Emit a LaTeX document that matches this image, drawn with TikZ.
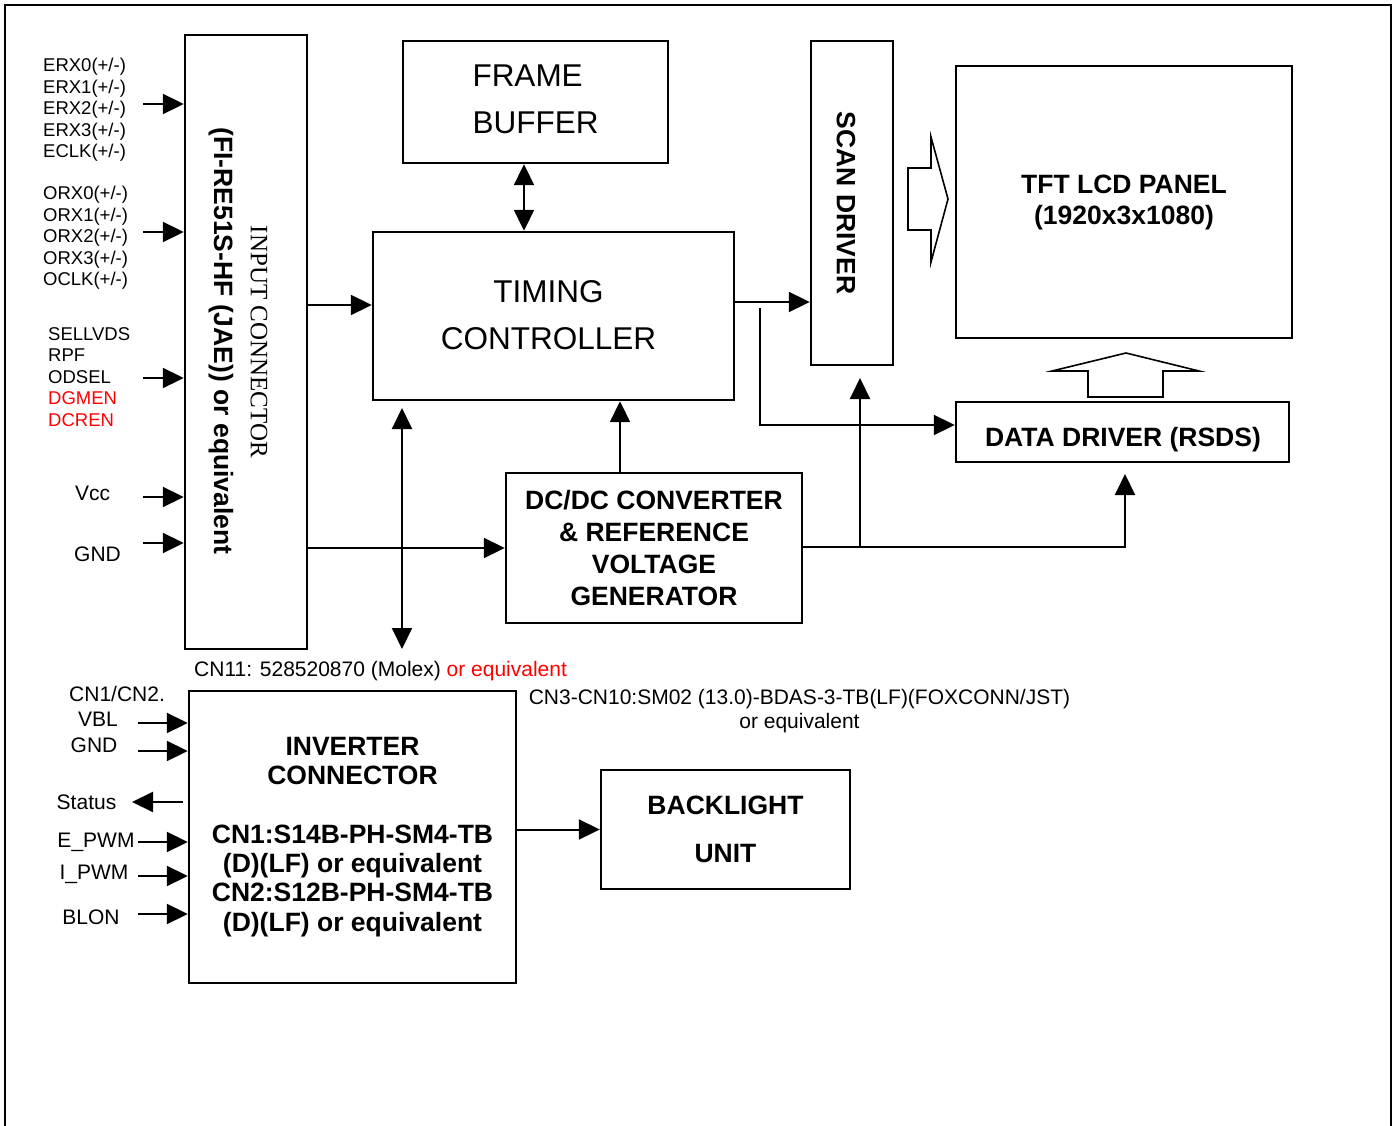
\documentclass[tikz,border=0pt]{standalone}
\usepackage{fontspec}
\setmainfont{Liberation Sans}
\newfontfamily\timesfont{Liberation Serif}
\usetikzlibrary{arrows.meta}
\tikzset{
  blk/.style={draw,line width=2.4pt,inner sep=0pt,align=center},
  lnk/.style={line width=2pt,-{Triangle[length=21pt,width=20pt]}},
  lnkk/.style={line width=2pt,{Triangle[length=21pt,width=20pt]}-{Triangle[length=21pt,width=20pt]}},
  big/.style={font=\fontsize{31.5}{47}\selectfont},
  bld/.style={font=\fontsize{26.5}{#1}\selectfont\bfseries},
  bld/.default=32,
  sig/.style={font=\fontsize{18.5}{21}\selectfont,inner sep=0pt,anchor=west},
  lab/.style={font=\fontsize{21}{24}\selectfont,inner sep=0pt},
  hollow/.style={line width=1.6pt,line join=miter}
}
\begin{document}
\begin{tikzpicture}[x=1pt,y=-1pt]
\useasboundingbox (0,0) rectangle (1398,1126);
%frame
\draw[line width=2pt] (5,1126)--(5,5)--(1391,5)--(1391,1126);
%blocks
\node[blk,minimum width=122pt,minimum height=614pt] (inconn) at (246,342) {};
\node[rotate=-90,font=\timesfont\fontsize{25}{30}\selectfont] (inname) at (259,342) {INPUT CONNECTOR};
\node[rotate=-90,bld] (inpart) at (221,341) {(FI-RE51S-HF (JAE)) or equivalent};
\node[blk,minimum width=265pt,minimum height=122pt] (fb) at (535.5,102) {};
\node[big,align=left] (fbname) at (535.5,99.5) {FRAME\\BUFFER};
\node[blk,minimum width=361pt,minimum height=168pt] (tcon) at (553.5,316) {};
\node[big,align=center] (tconname) at (548.5,315.5) {TIMING\\CONTROLLER};
\node[blk,minimum width=82pt,minimum height=324pt] (scan) at (852,203) {};
\node[rotate=-90,bld] (scanname) at (846,203) {SCAN DRIVER};
\node[blk,bld=31,minimum width=336pt,minimum height=272pt] (tft) at (1124,202) {TFT LCD PANEL\\(1920x3x1080)};
\node[blk,minimum width=333pt,minimum height=60pt] (ddrv) at (1122.5,432) {};
\node[bld] (ddrvname) at (1123,439.5) {DATA DRIVER (RSDS)};
\node[blk,bld,minimum width=296pt,minimum height=150pt] (dcdc) at (654,548) {DC/DC CONVERTER\\\& REFERENCE\\VOLTAGE\\GENERATOR};
\node[blk,bld=29.3,minimum width=327pt,minimum height=292pt] (inv) at (352.5,837) {INVERTER\\CONNECTOR\\[29.3pt]CN1:S14B-PH-SM4-TB\\(D)(LF) or equivalent\\CN2:S12B-PH-SM4-TB\\(D)(LF) or equivalent};
\node[blk,bld=48,minimum width=249pt,minimum height=119pt] (bl) at (725.5,829.5) {BACKLIGHT\\UNIT};
%hollow arrows
\draw[hollow] (908,168)--(931,168)--(931,137)--(948,199)--(931,262)--(931,230)--(908,230)--cycle;
\draw[hollow] (1126,353)--(1199,371)--(1163,371)--(1163,397)--(1088,397)--(1088,371)--(1052,371)--cycle;
%input labels
\foreach \p/\yy in {E/67,O/195}{
  \foreach \s [count=\i from 0] in {RX0,RX1,RX2,RX3,CLK}
    \node[sig] at (43,\yy+21.5*\i) {\p\s(+/-)};
}
\node[sig] (sel) at (48,334) {SELLVDS};
\node[sig] (rpf) at (48,355) {RPF};
\node[sig] (ods) at (48,377) {ODSEL};
\node[sig,text=red] (dgm) at (48,398) {DGMEN};
\node[sig,text=red] (dcr) at (48,420) {DCREN};
\node[lab,anchor=west] (vcc) at (75,493) {Vcc};
\node[lab,anchor=west] (gnd) at (74,554) {GND};
\foreach \y [count=\i] in {104,232,378,497,543}{
  \coordinate (src\i) at (143,\y);
  \draw[lnk] (src\i) -- (src\i -| inconn.west);
}
%inverter labels
\node[lab,anchor=west] (cnab) at (69,694) {CN1/CN2.};
\node[lab] (vbl) at (98,719) {VBL};
\node[lab] (ignd) at (94,745) {GND};
\node[lab] (stat) at (86.5,802) {Status};
\node[lab] (epwm) at (96,842) {E\_PWM};
\node[lab] (ipwm) at (94,874) {I\_PWM};
\node[lab] (blon) at (91,917) {BLON};
\foreach \y [count=\i] in {723,751,842,876,914}{
  \coordinate (ivs\i) at (138,\y);
  \draw[lnk] (ivs\i) -- (ivs\i -| inv.west);
}
\coordinate (statA) at (183,802);
\coordinate (statB) at (132,802);
\draw[lnk] (statA) -- (statB);
%part numbers
\node[lab,anchor=west] (cn11) at (194,671) {CN11: 528520870 (Molex) \textcolor{red}{or equivalent}};
\node[lab,align=center] (cn310) at (799.5,711) {CN3-CN10:SM02 (13.0)-BDAS-3-TB(LF)(FOXCONN/JST)\\or equivalent};
%connections
\draw[lnk] (inconn.east |- 0,305) -- (tcon.west |- 0,305);
\draw[lnk] (inconn.east |- dcdc.west) -- (dcdc.west);
\draw[lnkk] (fb.south -| 524,0) -- (tcon.north -| 524,0);
\coordinate (busT) at (402,408);
\coordinate (busB) at (402,649);
\draw[lnkk] (busT) -- (busB);
\draw[lnk] (dcdc.north -| 620,0) -- (tcon.south -| 620,0);
\draw[lnk] (tcon.east |- 0,302) -- (scan.west |- 0,302);
\coordinate (brA) at (760,308);
\draw[lnk] (brA) |- (ddrv.west |- 0,425);
\coordinate (ddIn) at (1125,474);
\draw[lnk] (dcdc.east |- 0,547) -| (ddIn);
\coordinate (scIn) at (860,378);
\draw[lnk] (scIn |- 0,547) -- (scIn);
\draw[lnk] (inv.east |- bl.west) -- (bl.west);
\end{tikzpicture}
\end{document}
